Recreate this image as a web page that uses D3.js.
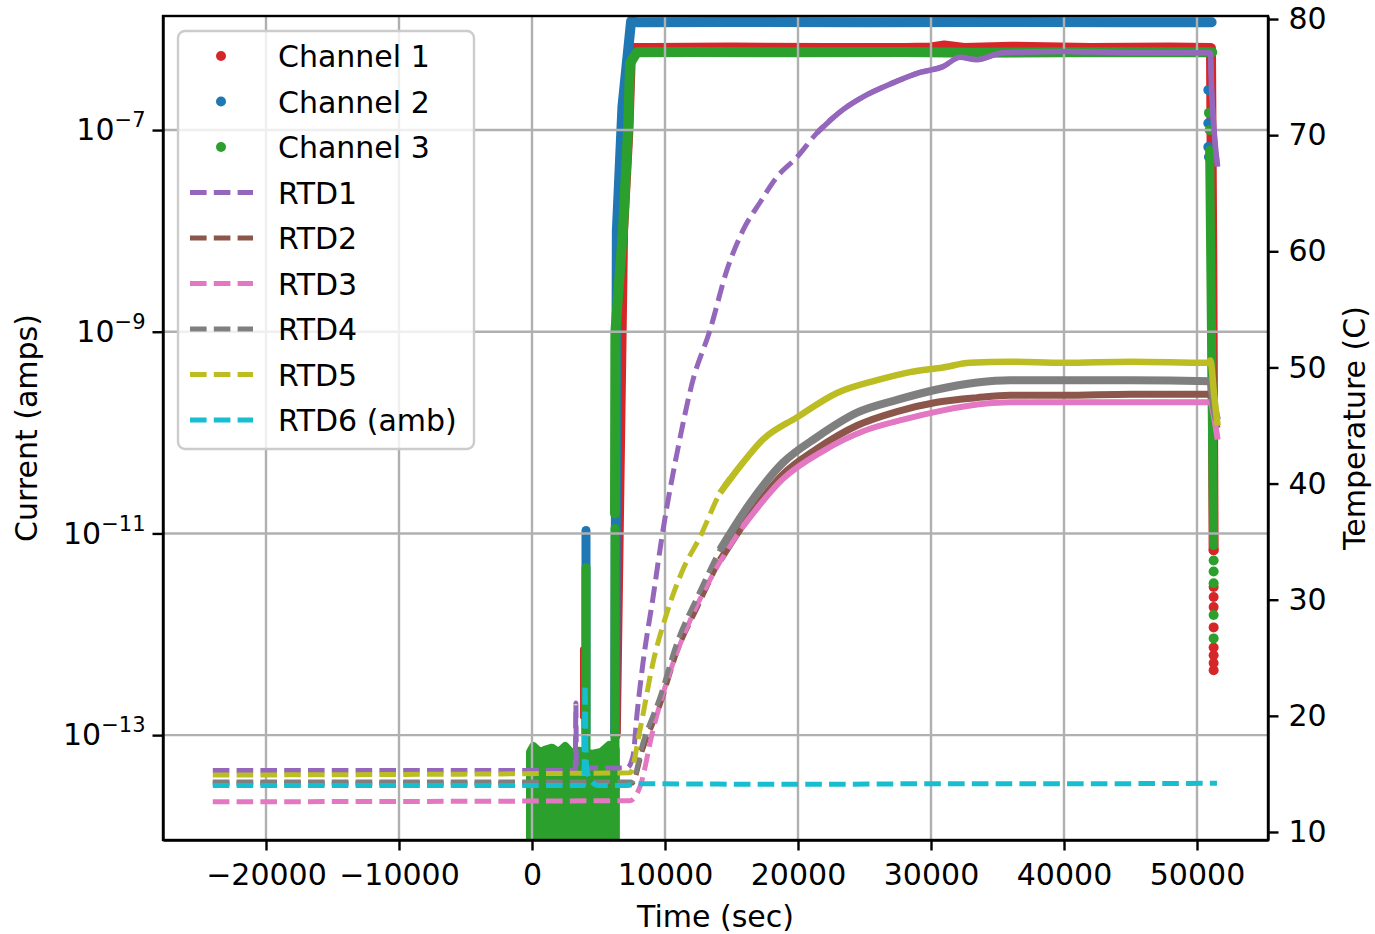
<!DOCTYPE html>
<html>
<head>
<meta charset="utf-8">
<script src="https://cdn.jsdelivr.net/npm/d3@7"></script>
<style>
  body { margin: 0; background: #fff; }
  text { font-family: "DejaVu Sans", sans-serif; }
</style>
</head>
<body>
<svg id="chart" width="1375" height="934"></svg>
<script>
// tick values
const timeTicks = [-20000, -10000, 0, 10000, 20000, 30000, 40000, 50000];
const currentTicks = [1e-7, 1e-9, 1e-11, 1e-13];
const tempTicks = [10, 20, 30, 40, 50, 60, 70, 80];

// Channel 1 (red) : [time s, current A]
const ch1Main = [[6300,1e-13],[6850,1e-8],[7250,1e-7],[7450,6.5e-7],[9000,6.5e-7],[15000,6.6e-7],[22000,6.5e-7],
  [28000,6.5e-7],[30000,6.6e-7],[31000,6.9e-7],[32500,6.5e-7],[36000,6.7e-7],[42000,6.5e-7],[48000,6.6e-7],
  [51050,6.5e-7],[51150,5e-9],[51250,6.8e-12]];
const ch1Spike = [[3760,7.2e-13],[3760,1.5e-13]];
const ch1Drop = [[51250,6.8e-12],[51250,2.95e-12],[51250,2.34e-12],[51250,1.86e-12],[51250,1.17e-12],
  [51250,7.4e-13],[51250,6.2e-13],[51250,5.2e-13],[51250,4.4e-13]];

// Channel 2 (blue)
const ch2Main = [[6250,1e-13],[6380,1.0e-8],[6800,1.7e-7],[7450,1.2e-6],[8000,1.17e-6],[15000,1.18e-6],
  [25000,1.17e-6],[35000,1.18e-6],[45000,1.17e-6],[51100,1.17e-6]];
const ch2Spike = [[4060,1.07e-11],[4060,1e-13]];
const ch2Drop = [[50850,2.5e-7],[50850,1.17e-7],[50850,6.8e-8],[50900,5.4e-8]];

// Channel 3 (green)
const ch3Band = [[-150,6.8e-14],[100,7.8e-14],[600,6.8e-14],[1000,7.2e-14],[1500,7.5e-14],[2000,6.8e-14],
  [2500,7.8e-14],[3000,6.6e-14],[3500,7.0e-14],[4500,6.5e-14],[5200,6.8e-14],[5800,8.0e-14],[6300,7.2e-14]];
const ch3Spike = [[4060,4.57e-12],[4060,5e-14]];
const ch3Column = [[6240,1.12e-11],[6240,5e-15]];
const ch3Main = [[6240,1.58e-11],[6270,1.0e-9],[6840,1.02e-8],[7220,1.0e-7],[7370,4.6e-7],[7890,5.9e-7],
  [12000,5.95e-7],[20000,5.9e-7],[28000,5.95e-7],[33000,5.85e-7],[40000,5.9e-7],[51150,5.9e-7]];
const ch3DropColumn = [[50950,6.3e-8],[51100,6.6e-10],[51250,7.6e-12]];
const ch3Drop = [[50900,1.48e-7],[50950,1.0e-7],[51250,5.4e-12],[51250,4.2e-12],[51250,3.2e-12],
  [51250,1.55e-12],[51250,9.1e-13]];

// RTD temperatures : [time s, deg C]
const rtd1 = [[-24000,15.3],[3250,15.3],[3300,21.1],[3340,15.5],[7140,15.5],[7590,16.5],[7900,20.2],[8350,24.6],
  [9100,30.2],[9850,36.0],[10900,42.6],[12100,48.9],[13380,53.2],[14660,58.4],[15860,61.8],[17140,64.2],
  [18420,66.4],[19920,68.1],[21430,70.2],[23380,72.2],[24890,73.3],[27140,74.5],[29170,75.4],[30900,75.9],
  [32180,76.7],[33460,76.5],[35410,77.1],[40000,77.2],[45000,77.1],[51000,77.1],[51100,73.9],[51300,70.2],[51550,67.3]];
const rtd2 = [[-24000,14.2],[7500,14.2],[8350,17.2],[9620,20.9],[10900,25.5],[12410,29.3],[14140,33.4],
  [16390,37.3],[18870,40.8],[21430,43.0],[24440,45.0],[27440,46.2],[30450,47.0],[33460,47.4],[35940,47.6],
  [40000,47.6],[45000,47.7],[51000,47.7],[51300,46.0],[51500,44.8]];
const rtd3 = [[-24000,12.6],[7370,12.7],[8120,13.9],[9100,18.8],[10380,23.8],[11880,28.2],[13610,32.2],
  [15860,36.3],[18870,40.4],[21880,42.8],[24890,44.5],[27890,45.5],[30900,46.3],[33460,46.8],[35940,47.0],
  [40000,47.0],[45000,47.0],[51000,47.0],[51300,45.6],[51550,43.8]];
const rtd4 = [[-24000,14.3],[7500,14.3],[8350,17.7],[9620,21.6],[10900,26.3],[12410,30.2],[14140,34.3],
  [16390,38.3],[18870,41.8],[21430,44.0],[24440,46.1],[27440,47.2],[30450,48.1],[33460,48.7],[35940,48.9],
  [40000,48.9],[45000,48.9],[51000,48.8],[51300,46.5],[51500,45.5]];
const rtd5 = [[-24000,14.9],[7370,15.1],[8120,18.8],[9100,24.6],[10150,28.9],[11350,32.6],[12630,35.4],
  [14140,39.2],[15860,41.8],[17370,43.8],[19920,45.7],[22930,47.8],[25940,48.9],[28420,49.6],[30900,50.0],
  [32930,50.4],[35940,50.5],[40000,50.4],[45000,50.5],[50800,50.4],[51000,50.6],[51300,47.5],[51550,45.0]];
const rtd6 = [[-24000,14.0],[3900,14.0],[3990,22.7],[4080,16.0],[4200,15.0],[4500,14.3],[5000,14.0],
  [7000,14.0],[8000,14.15],[20000,14.1],[30000,14.15],[40000,14.15],[51500,14.2]];

const channelNames = ["Channel 1", "Channel 2", "Channel 3"];
const rtdNames = ["RTD1", "RTD2", "RTD3", "RTD4", "RTD5", "RTD6 (amb)"];

// styling
const chColors = ["#d62728", "#1f77b4", "#2ca02c"];
const rtdColors = ["#9467bd", "#8c564b", "#e377c2", "#7f7f7f", "#bcbd22", "#17becf"];
const rtdSolidFrom = [20000, 13000, 14000, 12500, 13500, Infinity];
const rtdSolidWidth = [5.5, 7, 6, 8, 6.5, 5];

const svg = d3.select("#chart");
const pL = 163, pR = 1268, pT = 16, pB = 840;
const fs = 30;

const x = d3.scaleLinear().domain([-27744, 55338]).range([pL, pR]);
const yI = d3.scaleLog().domain([Math.pow(10, -14.04), Math.pow(10, -5.869)]).range([pB, pT]);
const yT = d3.scaleLinear().domain([9.31, 80.26]).range([pB, pT]);

svg.append("defs").append("clipPath").attr("id", "clip")
  .append("rect").attr("x", pL).attr("y", pT).attr("width", pR - pL).attr("height", pB - pT);

const plot = svg.append("g").attr("clip-path", "url(#clip)");

// channels (scatter clouds drawn as thick round strokes)
const lineI = d3.line().x(d => x(d[0])).y(d => yI(d[1]));
function cloud(data, color, w) {
  plot.append("path").datum(data).attr("d", lineI)
    .attr("fill", "none").attr("stroke", color).attr("stroke-width", w)
    .attr("stroke-linecap", "round").attr("stroke-linejoin", "round");
}
function dots(data, color) {
  plot.append("g").selectAll("circle").data(data).enter().append("circle")
    .attr("cx", d => x(d[0])).attr("cy", d => yI(d[1])).attr("r", 5).attr("fill", color);
}

cloud(ch1Main, chColors[0], 10);
cloud(ch1Spike, chColors[0], 4);
dots(ch1Drop, chColors[0]);

cloud(ch2Main, chColors[1], 10);
cloud(ch2Spike, chColors[1], 9);
dots(ch2Drop, chColors[1]);

plot.append("path").datum(ch3Band)
  .attr("d", d3.area().x(d => x(d[0])).y0(pB + 20).y1(d => yI(d[1])))
  .attr("fill", chColors[2]).attr("stroke", chColors[2]).attr("stroke-width", 8).attr("stroke-linejoin", "round");
cloud(ch3Spike, chColors[2], 9);
cloud(ch3Column, chColors[2], 9);
cloud(ch3Main, chColors[2], 10);
cloud(ch3DropColumn, chColors[2], 9);
dots(ch3Drop, chColors[2]);

// grid (above scatter, below lines)
const grid = svg.append("g");
grid.selectAll(".gx").data(timeTicks).enter().append("line")
  .attr("x1", d => x(d)).attr("x2", d => x(d)).attr("y1", pT).attr("y2", pB)
  .attr("stroke", "#b0b0b0").attr("stroke-width", 2.4);
grid.selectAll(".gy").data(currentTicks).enter().append("line")
  .attr("y1", d => yI(d)).attr("y2", d => yI(d)).attr("x1", pL).attr("x2", pR)
  .attr("stroke", "#b0b0b0").attr("stroke-width", 2.4);

// RTD lines
const lineT = d3.line().curve(d3.curveMonotoneX).x(d => x(d[0])).y(d => yT(d[1]));
const rtds = [rtd1, rtd2, rtd3, rtd4, rtd5, rtd6];
const layer2 = svg.append("g").attr("clip-path", "url(#clip)");
rtds.forEach((data, i) => {
  layer2.append("path").datum(data).attr("d", lineT)
    .attr("fill", "none").attr("stroke", rtdColors[i]).attr("stroke-width", 5)
    .attr("stroke-dasharray", "16.6,7.2");
  const solid = data.filter(d => d[0] >= rtdSolidFrom[i]);
  if (solid.length > 1) {
    layer2.append("path").datum(solid).attr("d", lineT)
      .attr("fill", "none").attr("stroke", rtdColors[i]).attr("stroke-width", rtdSolidWidth[i])
      .attr("stroke-linejoin", "round");
  }
});

// axes
const gx = svg.append("g").attr("transform", `translate(0,${pB})`)
  .call(d3.axisBottom(x).tickValues(timeTicks).tickSizeInner(10.5).tickSizeOuter(0).tickPadding(13)
    .tickFormat(d => d < 0 ? "\u2212" + Math.abs(d) : d));
const gl = svg.append("g").attr("transform", `translate(${pL},0)`)
  .call(d3.axisLeft(yI).tickValues(currentTicks).tickSizeInner(10.5).tickSizeOuter(0).tickPadding(7));
const gr = svg.append("g").attr("transform", `translate(${pR},0)`)
  .call(d3.axisRight(yT).tickValues(tempTicks).tickSizeInner(10.5).tickSizeOuter(0).tickPadding(10));

[gx, gl, gr].forEach(g => {
  g.attr("font-size", fs).attr("font-family", "DejaVu Sans");
  g.selectAll("line").attr("stroke", "#000").attr("stroke-width", 2.4);
  g.select(".domain").attr("stroke", "#000").attr("stroke-width", 2.4);
  g.selectAll("text").attr("fill", "#000");
});
gl.selectAll(".tick text").each(function (d) {
  const t = d3.select(this).text(null);
  t.append("tspan").text("10");
  t.append("tspan").attr("dy", -13).attr("font-size", 21).text("\u2212" + Math.round(-Math.log10(d)));
});

// frame
svg.append("rect").attr("x", pL).attr("y", pT).attr("width", pR - pL).attr("height", pB - pT)
  .attr("fill", "none").attr("stroke", "#000").attr("stroke-width", 2.4);

// axis labels
svg.append("text").attr("x", (pL + pR) / 2).attr("y", 927).attr("text-anchor", "middle")
  .attr("font-size", fs).text("Time (sec)");
svg.append("text").attr("transform", `translate(37,${(pT + pB) / 2}) rotate(-90)`)
  .attr("text-anchor", "middle").attr("font-size", fs).text("Current (amps)");
svg.append("text").attr("transform", `translate(1365,${(pT + pB) / 2}) rotate(-90)`)
  .attr("text-anchor", "middle").attr("font-size", fs).text("Temperature (C)");

// legend
const leg = svg.append("g");
leg.append("rect").attr("x", 178).attr("y", 31).attr("width", 296).attr("height", 418).attr("rx", 7)
  .attr("fill", "#fff").attr("fill-opacity", 0.8).attr("stroke", "#cccccc").attr("stroke-width", 2.4);
const rowY = i => 56 + i * 45.5;
channelNames.forEach((n, i) => {
  leg.append("circle").attr("cx", 221).attr("cy", rowY(i)).attr("r", 5).attr("fill", chColors[i]);
  leg.append("text").attr("x", 278).attr("y", rowY(i) + 11).attr("font-size", fs).text(n);
});
rtdNames.forEach((n, k) => {
  const i = k + 3;
  leg.append("line").attr("x1", 190).attr("x2", 253).attr("y1", rowY(i)).attr("y2", rowY(i))
    .attr("stroke", rtdColors[k]).attr("stroke-width", 5).attr("stroke-dasharray", "16.6,7.2");
  leg.append("text").attr("x", 278).attr("y", rowY(i) + 11).attr("font-size", fs).text(n);
});
</script>
</body>
</html>
